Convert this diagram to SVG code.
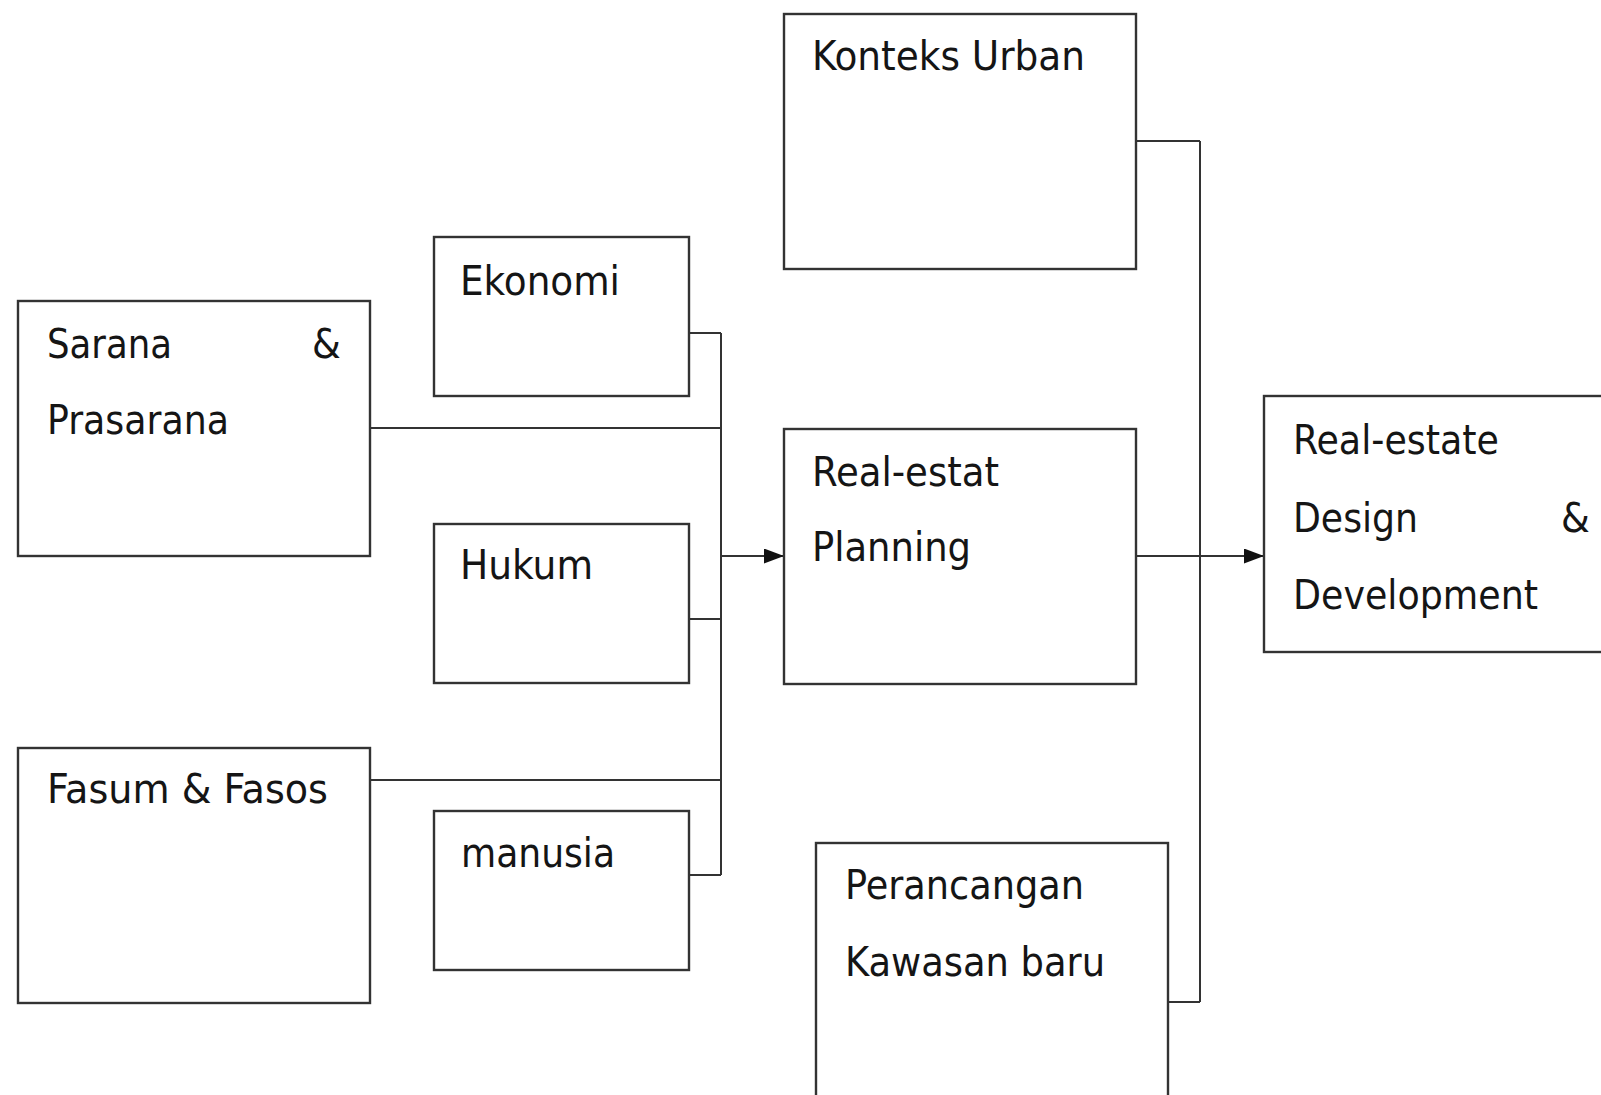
<svg xmlns="http://www.w3.org/2000/svg" width="1601" height="1095" viewBox="0 0 1601 1095">
<style>
.box{fill:#fff;stroke:#333;stroke-width:2.4}
.con{fill:none;stroke:#333;stroke-width:2}
text{font-family:"DejaVu Sans Condensed","DejaVu Sans",sans-serif;font-stretch:condensed;font-size:41px;fill:#151515}
</style>
<defs>
<marker id="arr" markerWidth="20" markerHeight="15" refX="20" refY="7.5" orient="auto" markerUnits="userSpaceOnUse">
<path d="M0,0 L20,7.5 L0,15 z" fill="#111"/>
</marker>
</defs>
<rect width="1601" height="1095" fill="#fff"/>
<g id="connectors">
<line class="con" x1="721" y1="333" x2="721" y2="875"/>
<line class="con" x1="689" y1="333" x2="721" y2="333"/>
<line class="con" x1="370" y1="428" x2="721" y2="428"/>
<line class="con" x1="689" y1="619" x2="721" y2="619"/>
<line class="con" x1="370" y1="780" x2="721" y2="780"/>
<line class="con" x1="689" y1="875" x2="721" y2="875"/>
<line class="con" x1="721" y1="556" x2="784" y2="556" marker-end="url(#arr)"/>
<line class="con" x1="1200" y1="141" x2="1200" y2="1002"/>
<line class="con" x1="1136" y1="141" x2="1200" y2="141"/>
<line class="con" x1="1168" y1="1002" x2="1200" y2="1002"/>
<line class="con" x1="1136" y1="556" x2="1264" y2="556" marker-end="url(#arr)"/>
</g>
<g id="konteks-urban">
<rect class="box" x="784" y="14" width="352" height="255"/>
<text x="812" y="70" textLength="273" lengthAdjust="spacingAndGlyphs">Konteks Urban</text>
</g>
<g id="ekonomi">
<rect class="box" x="434" y="237" width="255" height="159"/>
<text x="460" y="295" textLength="160" lengthAdjust="spacingAndGlyphs">Ekonomi</text>
</g>
<g id="sarana-prasarana">
<rect class="box" x="18" y="301" width="352" height="255"/>
<text x="47" y="358" textLength="125" lengthAdjust="spacingAndGlyphs">Sarana</text>
<text x="312" y="358">&amp;</text>
<text x="47" y="434" textLength="182" lengthAdjust="spacingAndGlyphs">Prasarana</text>
</g>
<g id="real-estat-planning">
<rect class="box" x="784" y="429" width="352" height="255"/>
<text x="812" y="486" textLength="187" lengthAdjust="spacingAndGlyphs">Real-estat</text>
<text x="812" y="561" textLength="159" lengthAdjust="spacingAndGlyphs">Planning</text>
</g>
<g id="real-estate-design">
<rect class="box" x="1264" y="396" width="360" height="256"/>
<text x="1293" y="454" textLength="206" lengthAdjust="spacingAndGlyphs">Real-estate</text>
<text x="1293" y="532" textLength="125" lengthAdjust="spacingAndGlyphs">Design</text>
<text x="1561" y="532">&amp;</text>
<text x="1293" y="609" textLength="245" lengthAdjust="spacingAndGlyphs">Development</text>
</g>
<g id="hukum">
<rect class="box" x="434" y="524" width="255" height="159"/>
<text x="460" y="579" textLength="133" lengthAdjust="spacingAndGlyphs">Hukum</text>
</g>
<g id="fasum-fasos">
<rect class="box" x="18" y="748" width="352" height="255"/>
<text x="47" y="803" textLength="281" lengthAdjust="spacingAndGlyphs">Fasum &amp; Fasos</text>
</g>
<g id="manusia">
<rect class="box" x="434" y="811" width="255" height="159"/>
<text x="461" y="867" textLength="154" lengthAdjust="spacingAndGlyphs">manusia</text>
</g>
<g id="perancangan">
<rect class="box" x="816" y="843" width="352" height="300"/>
<text x="845" y="899" textLength="239" lengthAdjust="spacingAndGlyphs">Perancangan</text>
<text x="845" y="976" textLength="260" lengthAdjust="spacingAndGlyphs">Kawasan baru</text>
</g>
</svg>
